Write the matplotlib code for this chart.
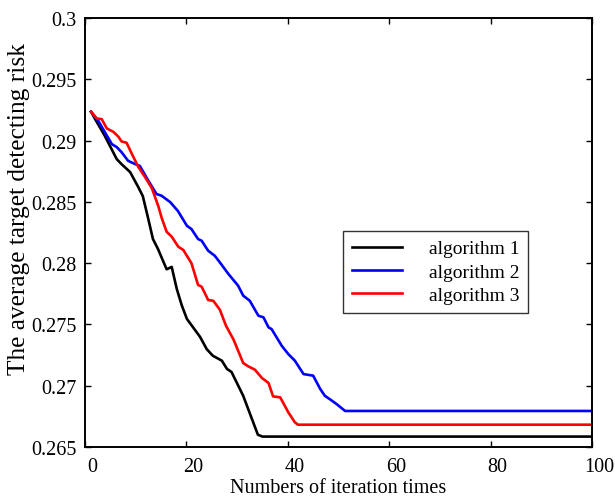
import matplotlib
matplotlib.use('Agg')
import matplotlib.pyplot as plt
import matplotlib.transforms as mtransforms

plt.rcParams['font.family'] = ['Liberation Serif', 'DejaVu Serif']

# curve points (iteration, risk)
alg1_x = [1.2, 2.0, 3.9, 6.25, 7.2, 8.9, 10.5, 11.4, 12.4, 13.4, 14.4, 16.1, 17.1, 18.1, 19.1, 20.1,
          22.7, 24.0, 25.2, 27.0, 28.0, 28.9, 31.2, 34.1, 35.0, 100]
alg1_y = [0.29235, 0.29175, 0.29039, 0.28849, 0.28808, 0.28743, 0.28621, 0.28547, 0.28375, 0.28197,
          0.28115, 0.27950, 0.27969, 0.27790, 0.27654, 0.27545, 0.27398, 0.27299, 0.27245, 0.27204,
          0.27137, 0.27112, 0.26918, 0.26600, 0.26585, 0.26585]

alg2_x = [1.2, 2.6, 3.9, 5.3, 6.25, 7.2, 8.5, 9.9, 10.8, 12.5, 14.1, 15.1, 16.8, 18.3, 20.1, 21.0,
          22.3, 23.0, 24.3, 25.6, 26.6, 28.3, 30.2, 31.2, 32.5, 34.2, 35.2, 36.2, 36.8, 38.8, 40.1,
          41.4, 43.1, 45.0, 46.4, 47.3, 48.7, 49.6, 51.3, 100]
alg2_y = [0.29235, 0.29162, 0.29070, 0.28971, 0.28947, 0.28906, 0.28835, 0.28808, 0.28794, 0.28672,
          0.28564, 0.28550, 0.28498, 0.28427, 0.28305, 0.28278, 0.28197, 0.28183, 0.28101, 0.28060,
          0.28006, 0.27911, 0.27816, 0.27735, 0.27693, 0.27571, 0.27558, 0.27476, 0.27462, 0.27326,
          0.27258, 0.27204, 0.27095, 0.27082, 0.26973, 0.26918, 0.26878, 0.26851, 0.26794, 0.26794]

alg3_x = [1.2, 2.3, 3.3, 4.3, 5.6, 6.6, 7.2, 8.2, 9.2, 10.5, 11.8, 13.2, 14.5, 15.1, 16.1, 17.1,
          18.4, 19.4, 21.0, 22.3, 23.0, 24.3, 25.3, 26.6, 27.8, 29.3, 31.2, 32.2, 33.5, 34.9, 36.2,
          37.1, 38.5, 40.1, 41.4, 42.0, 100]
alg3_y = [0.29235, 0.29180, 0.29175, 0.29099, 0.29071, 0.29031, 0.28993, 0.28982, 0.28895, 0.28786,
          0.28705, 0.28610, 0.28460, 0.28372, 0.28256, 0.28216, 0.28134, 0.28107, 0.27999, 0.27822,
          0.27808, 0.27699, 0.27693, 0.27620, 0.27490, 0.27376, 0.27185, 0.27158, 0.27131, 0.27063,
          0.27022, 0.26913, 0.26905, 0.26783, 0.26701, 0.26682, 0.26682]

labels = ['algorithm 1', 'algorithm 2', 'algorithm 3']
colors = ['black', 'blue', 'red']

fig = plt.figure(figsize=(6.15, 5.02), dpi=100)
ax = fig.add_axes([85 / 615, 1 - 448 / 502, 507 / 615, 429 / 502])

ax.plot(alg1_x, alg1_y, color=colors[0], lw=1.9, label=labels[0])
ax.plot(alg2_x, alg2_y, color=colors[1], lw=1.9, label=labels[1])
ax.plot(alg3_x, alg3_y, color=colors[2], lw=1.9, label=labels[2])

ax.set_xlim(0, 100)
ax.set_ylim(0.265, 0.3)
ax.set_xticks([0, 20, 40, 60, 80, 100])
ax.set_yticks([0.265, 0.27, 0.275, 0.28, 0.285, 0.29, 0.295, 0.3])
ax.set_yticklabels(['0.265', '0.27', '0.275', '0.28', '0.285', '0.29', '0.295', '0.3'])
ax.tick_params(direction='in', top=True, right=True, length=4, width=1, labelsize=14.5)
ax.tick_params(axis='y', pad=6)
ax.tick_params(axis='x', pad=7)
for s in ax.spines.values():
    s.set_linewidth(1.4)

# x tick labels sit a bit to the right of the ticks in the original
offset = mtransforms.ScaledTranslation(7 / 100, 0, fig.dpi_scale_trans)
for lab in ax.get_xticklabels():
    lab.set_transform(lab.get_transform() + offset)

ax.set_xlabel('Numbers of iteration times', fontsize=14.5, labelpad=2)
ax.set_ylabel('The average target detecting risk', fontsize=18.3)
ax.yaxis.set_label_coords(-0.108, 0.557)

leg = ax.legend(loc='upper left', bbox_to_anchor=((343 - 85) / 507, (448 - 232) / 429),
                fontsize=14, frameon=True, fancybox=False, edgecolor='black',
                handlelength=2.6, handletextpad=1.35, borderpad=0.45, labelspacing=0.3,
                borderaxespad=0)
leg.get_frame().set_linewidth(1.0)

fig.savefig('out.png', dpi=100)
